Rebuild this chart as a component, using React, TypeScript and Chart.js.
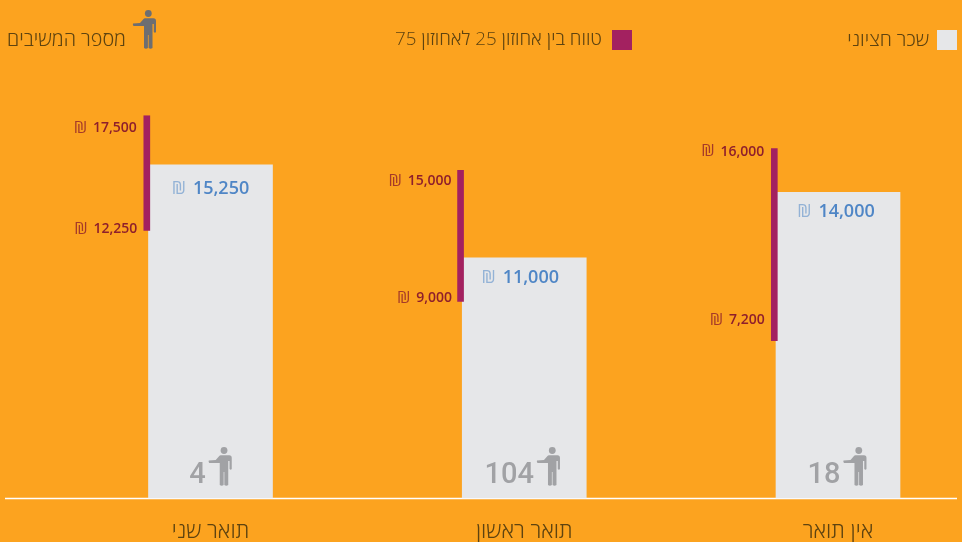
import React, { useEffect, useRef } from "react";
import { Chart, registerables } from "chart.js";

Chart.register(...registerables);

const categories = ["תואר שני", "תואר ראשון", "אין תואר"];
const medianSalary = [15250, 11000, 14000];
const percentile25 = [12250, 9000, 7200];
const percentile75 = [17500, 15000, 16000];
const respondents = [4, 104, 18];
const legendMedian = "שכר חציוני";
const legendRange = "טווח בין אחוזון 25 לאחוזון 75";
const legendRespondents = "מספר המשיבים";
const SHEKEL = "₪";

const FONT = '"Open Sans", "Noto Sans", sans-serif';
const BG = "#FCA31F";
const BAR = "#E6E7E9";
const RANGE = "#A32160";
const BLUE = "#4F86C6";
const RED = "#8E1F2C";
const GREY = "#A1A2A5";
const ICON = "#6D6E71";
const LEGEND_TEXT = "#5E4310";

const RANGE_OFFSET = -0.203;
const medianLabelNudge = [24, 20, 20];
const medianLabelShift = [0, -4, -2];
const countShift = [-1, -3, -2];
const highLabelNudge = [12, 11, 3];
const lowLabelNudge = [-1, -3, -21];
const rangeLabelShift = [0, 1, 0];

function person(ctx: CanvasRenderingContext2D, x: number, y: number, color: string) {
  ctx.save();
  ctx.translate(x, y);
  ctx.fillStyle = color;
  ctx.beginPath();
  ctx.arc(15.3, 3.5, 3.4, 0, Math.PI * 2);
  ctx.fill();
  ctx.beginPath();
  ctx.moveTo(0, 13.6);
  ctx.lineTo(7, 13);
  ctx.lineTo(10.5, 9);
  ctx.quadraticCurveTo(11, 8.2, 12, 8.2);
  ctx.lineTo(20.5, 8.2);
  ctx.quadraticCurveTo(23, 8.2, 23, 11);
  ctx.lineTo(23, 22);
  ctx.quadraticCurveTo(22, 23.5, 20.8, 22);
  ctx.lineTo(20.8, 14);
  ctx.lineTo(19.5, 14);
  ctx.lineTo(19.5, 38);
  ctx.quadraticCurveTo(17.5, 39.5, 15.6, 38);
  ctx.lineTo(15.6, 25);
  ctx.lineTo(14.9, 25);
  ctx.lineTo(14.9, 38);
  ctx.quadraticCurveTo(13, 39.5, 11, 38);
  ctx.lineTo(11, 16);
  ctx.lineTo(8, 16);
  ctx.lineTo(0.5, 16);
  ctx.quadraticCurveTo(-0.5, 15, 0, 13.6);
  ctx.closePath();
  ctx.fill();
  ctx.restore();
}

function money(
  ctx: CanvasRenderingContext2D,
  value: number,
  right: number,
  y: number,
  size: number,
  symbolSize: number,
  gap: number,
  color: string,
  alpha: number
) {
  const txt = value.toLocaleString("en-US");
  ctx.font = `600 ${size}px ${FONT}`;
  ctx.textAlign = "right";
  ctx.textBaseline = "middle";
  ctx.fillStyle = color;
  ctx.fillText(txt, right, y);
  const w = ctx.measureText(txt).width;
  ctx.font = `400 ${symbolSize}px ${FONT}`;
  ctx.globalAlpha = alpha;
  ctx.fillText(SHEKEL, right - w - gap, y);
  ctx.globalAlpha = 1;
}

const baseline = {
  id: "baseline",
  beforeDatasetsDraw(chart: any) {
    const { ctx, scales } = chart;
    const y = scales.y.getPixelForValue(0);
    ctx.save();
    ctx.strokeStyle = "#FFFFFF";
    ctx.lineWidth = 1.5;
    ctx.beginPath();
    ctx.moveTo(5, y + 0.5);
    ctx.lineTo(957, y + 0.5);
    ctx.stroke();
    ctx.restore();
  },
};

const annotations = {
  id: "annotations",
  afterDatasetsDraw(chart: any) {
    const { ctx, scales } = chart;
    const { x, y } = scales;
    ctx.save();
    categories.forEach((_, i) => {
      const cx = x.getPixelForValue(i);
      ctx.font = `600 18px ${FONT}`;
      const medTxt = medianSalary[i].toLocaleString("en-US");
      const nw = ctx.measureText(medTxt).width;
      ctx.font = `400 18px ${FONT}`;
      const sw = ctx.measureText(SHEKEL).width;
      const groupW = nw + 7 + sw;
      money(ctx, medianSalary[i], cx + groupW / 2 + medianLabelShift[i], y.getPixelForValue(medianSalary[i]) + medianLabelNudge[i], 18, 18, 7, BLUE, 0.55);
      const rx = scales.x2.getPixelForValue(i + RANGE_OFFSET) + rangeLabelShift[i];
      money(ctx, percentile75[i], rx - 10, y.getPixelForValue(percentile75[i]) + highLabelNudge[i], 14, 17, 6, RED, 0.8);
      money(ctx, percentile25[i], rx - 9.5, y.getPixelForValue(percentile25[i]) + lowLabelNudge[i], 14, 17, 6, RED, 0.8);
      const cntTxt = String(respondents[i]);
      ctx.font = `500 29px Roboto, sans-serif`;
      const cw = ctx.measureText(cntTxt).width;
      const total = cw + 5 + 23;
      const start = cx - total / 2 + countShift[i];
      ctx.textAlign = "left";
      ctx.textBaseline = "middle";
      ctx.fillStyle = GREY;
      ctx.fillText(cntTxt, start + 2, 476);
      person(ctx, start + cw + 5, 447, GREY);
    });
    ctx.direction = "rtl";
    ctx.textAlign = "right";
    ctx.textBaseline = "middle";
    ctx.fillStyle = LEGEND_TEXT;
    ctx.font = `300 19.5px ${FONT}`;
    ctx.fillText(legendMedian, 929, 40);
    ctx.font = `300 19.8px ${FONT}`;
    ctx.fillText(legendRespondents, 126, 40);
    ctx.font = `300 18.8px ${FONT}`;
    ctx.fillText(legendRange, 602, 40);
    ctx.direction = "ltr";
    ctx.fillStyle = BAR;
    ctx.fillRect(937, 30, 20, 20);
    ctx.fillStyle = RANGE;
    ctx.fillRect(612, 30, 20, 20);
    person(ctx, 133, 10, ICON);
    ctx.restore();
  },
};

export default function App() {
  const ref = useRef<HTMLCanvasElement>(null);
  useEffect(() => {
    document.body.style.margin = "0";
    document.body.style.overflow = "hidden";
    const chart = new Chart(ref.current!, {
      type: "bar",
      data: {
        labels: categories,
        datasets: [
          {
            label: legendMedian,
            data: medianSalary,
            backgroundColor: BAR,
            barThickness: 124,
            grouped: false,
            clip: false,
            xAxisID: "x",
            order: 2,
          } as any,
          {
            label: legendRange,
            data: categories.map((_, i) => ({
              x: i + RANGE_OFFSET,
              y: [percentile25[i], percentile75[i]],
            })),
            backgroundColor: RANGE,
            barThickness: 6,
            grouped: false,
            clip: false,
            xAxisID: "x2",
            order: 1,
          } as any,
        ],
      },
      options: {
        responsive: false,
        animation: false,
        layout: { padding: { left: 210.5, right: 124, top: 0, bottom: 0 } },
        plugins: { legend: { display: false }, tooltip: { enabled: false } },
        scales: {
          x: {
            type: "category",
            offset: false,
            grid: { display: false, drawTicks: false },
            border: { display: false },
            ticks: {
              autoSkip: false,
              maxRotation: 0,
              padding: 21,
              color: LEGEND_TEXT,
              font: { family: FONT, size: 22, weight: "300" },
            },
            afterFit(scale: any) {
              scale.height = 44;
            },
          },
          x2: { type: "linear", display: false, offset: false, min: 0, max: 2 },
          y: { display: false, min: 0, max: 22800 },
        },
      } as any,
      plugins: [baseline, annotations],
    });
    return () => chart.destroy();
  }, []);
  return (
    <div style={{ width: 962, height: 542, background: BG }}>
      <canvas ref={ref} width={962} height={542} style={{ display: "block" }} />
    </div>
  );
}
